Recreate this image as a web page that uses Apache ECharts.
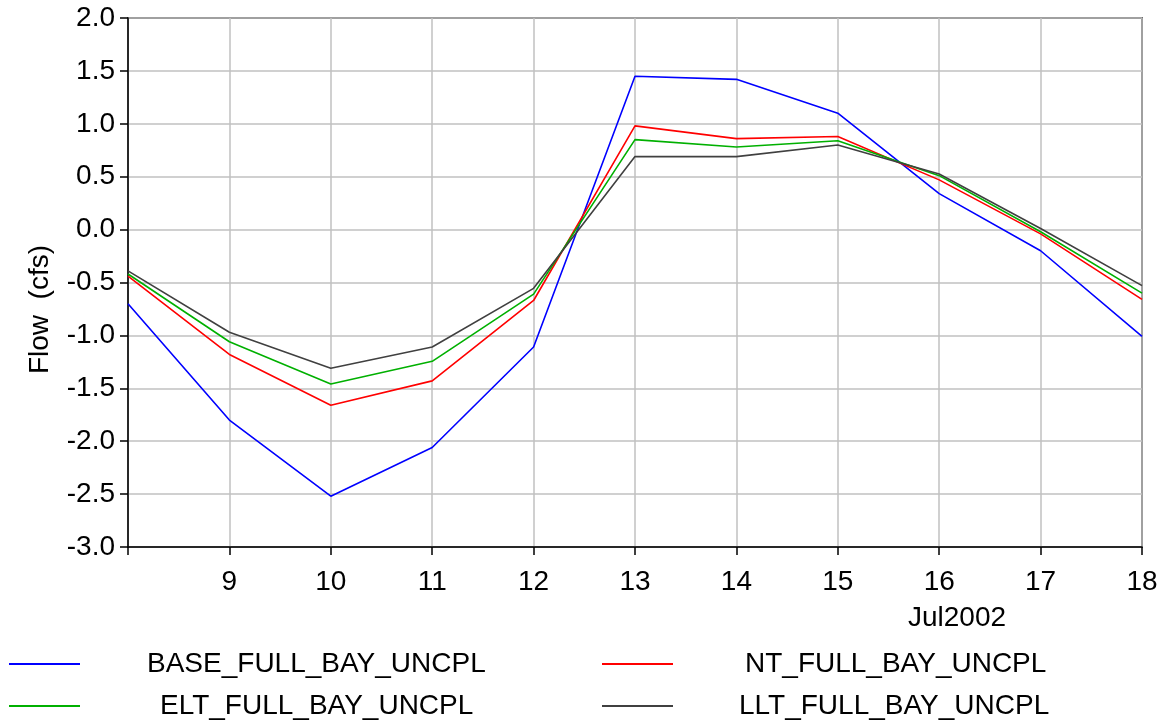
<!DOCTYPE html>
<html><head><meta charset="utf-8">
<script src="https://cdn.jsdelivr.net/npm/echarts@6/dist/echarts.min.js"></script>
<style>html,body{margin:0;padding:0;background:#fff}#c{width:1169px;height:722px}</style>
</head><body><div id="c"></div>
<script>
const days = ['8','9','10','11','12','13','14','15','16','17','18'];
const base = [-0.70,-1.80,-2.52,-2.06,-1.11,1.45,1.42,1.10,0.34,-0.20,-1.01];
const nt   = [-0.44,-1.18,-1.66,-1.43,-0.67,0.98,0.86,0.88,0.47,-0.04,-0.66];
const elt  = [-0.42,-1.06,-1.46,-1.245,-0.61,0.85,0.78,0.84,0.51,-0.02,-0.60];
const llt  = [-0.39,-0.97,-1.31,-1.11,-0.555,0.69,0.69,0.80,0.525,0.01,-0.53];
const names = ['BASE_FULL_BAY_UNCPL','NT_FULL_BAY_UNCPL','ELT_FULL_BAY_UNCPL','LLT_FULL_BAY_UNCPL'];
const colors = ['#0000ff','#ff0000','#00b000','#404040'];
const monthLabel = 'Jul2002';
const yName = 'Flow  (cfs)';

const font = 'Liberation Sans, Arial, sans-serif';
const fs = 28;
const chart = echarts.init(document.getElementById('c'), null, {renderer:'canvas'});
function mkSeries(name, data, color){
  return {name, type:'line', data, symbol:'none', color, lineStyle:{width:1.6, color}, animation:false};
}
function mkLegend(name, left, top, padLeft){
  return {data:[name], left, top, padding:0, itemWidth:71, itemHeight:2, icon:'rect', itemGap:0,
    textStyle:{fontFamily:font, fontSize:fs, color:'#000', lineHeight:28, padding:[0,0,0,padLeft]}};
}
chart.setOption({
  animation:false,
  grid:{left:128, right:27, top:18, bottom:175, show:true, borderColor:'#000', borderWidth:1.5, backgroundColor:'transparent'},
  xAxis:{type:'category', data:days, boundaryGap:false,
    axisLine:{onZero:false, lineStyle:{color:'#000', width:1.5}},
    axisTick:{show:true, length:8, inside:false, lineStyle:{color:'#000', width:1.5}, interval:0},
    axisLabel:{interval:0, margin:21, fontFamily:font, fontSize:fs, color:'#000', formatter:v=> v==='8'?'':v},
    splitLine:{show:true, interval:0, lineStyle:{color:'#c0c0c0', width:1.5}}},
  yAxis:{type:'value', min:-3, max:2, interval:0.5,
    name:yName, nameLocation:'middle', nameGap:74,
    nameTextStyle:{fontFamily:font, fontSize:fs, color:'#000', padding:[0,54,0,0]},
    axisLine:{show:true, lineStyle:{color:'#000', width:1.5}},
    axisTick:{show:true, length:8, lineStyle:{color:'#000', width:1.5}},
    axisLabel:{margin:13, fontFamily:font, fontSize:fs, color:'#000', formatter:v=>v.toFixed(1)},
    splitLine:{show:true, lineStyle:{color:'#c0c0c0', width:1.5}}},
  legend:[
    mkLegend(names[0], 9, 650, 62),
    mkLegend(names[1], 602, 650, 67),
    mkLegend(names[2], 9, 692, 75),
    mkLegend(names[3], 602, 692, 61)
  ],
  graphic:[{type:'text', left:908, top:604, style:{text:monthLabel, font:fs+'px '+font, fill:'#000'}}],
  series:[mkSeries(names[0], base, colors[0]), mkSeries(names[1], nt, colors[1]), mkSeries(names[2], elt, colors[2]), mkSeries(names[3], llt, colors[3])]
});
</script></body></html>
